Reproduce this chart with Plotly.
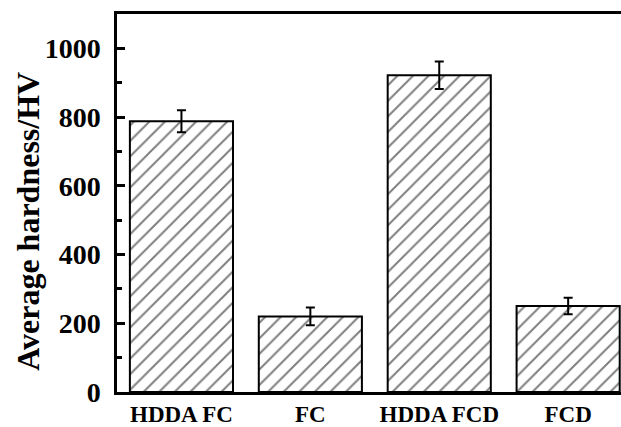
import plotly.graph_objects as go

# Average hardness of each coating, with standard deviation
samples = ["HDDA FC", "FC", "HDDA FCD", "FCD"]
hardness = [788, 220, 922, 250]
hardness_err = [32, 26, 40, 24]
y_ticks = [0, 200, 400, 600, 800, 1000]

FONT = "Liberation Serif"

fig = go.Figure(
    go.Bar(
        x=list(range(len(samples))),
        y=hardness,
        width=0.8,
        marker=dict(
            color="white",
            line=dict(color="black", width=2),
            pattern=dict(shape="/", size=11, solidity=0.18,
                         fgcolor="black", bgcolor="white"),
        ),
        error_y=dict(type="data", array=hardness_err, visible=True,
                     color="black", thickness=2, width=4.5),
    )
)

fig.update_layout(
    width=621,
    height=427,
    margin=dict(l=117, r=0, t=14, b=29),
    paper_bgcolor="white",
    plot_bgcolor="white",
    showlegend=False,
    font=dict(family=FONT, color="black"),
    xaxis=dict(
        range=[-0.5, 3.41],
        tickmode="array",
        tickvals=list(range(len(samples))),
        ticktext=samples,
        tickfont=dict(family=FONT, size=23, color="black", weight="bold"),
        showline=True,
        linecolor="black",
        linewidth=2.5,
        mirror=True,
        ticks="",
        showgrid=False,
        zeroline=False,
    ),
    yaxis=dict(
        range=[0, 1100],
        tickmode="array",
        tickvals=y_ticks,
        ticktext=[str(v) for v in y_ticks],
        tickfont=dict(family=FONT, size=28, color="black", weight="bold"),
        ticks="inside",
        ticklen=8,
        tickwidth=2.5,
        tickcolor="black",
        ticklabelstandoff=8,
        minor=dict(tickvals=[100, 300, 500, 700, 900], ticks="inside",
                   ticklen=5, tickwidth=2.5, tickcolor="black"),
        showline=True,
        linecolor="black",
        linewidth=2.5,
        showgrid=False,
        zeroline=False,
    ),
    annotations=[
        dict(
            text="Average hardness/HV",
            xref="paper", yref="paper",
            x=-0.1766, y=0.453,
            xanchor="center", yanchor="middle",
            textangle=-90,
            showarrow=False,
            font=dict(family=FONT, size=32, color="black", weight="bold"),
        )
    ],
)

fig.write_html("out.html")
